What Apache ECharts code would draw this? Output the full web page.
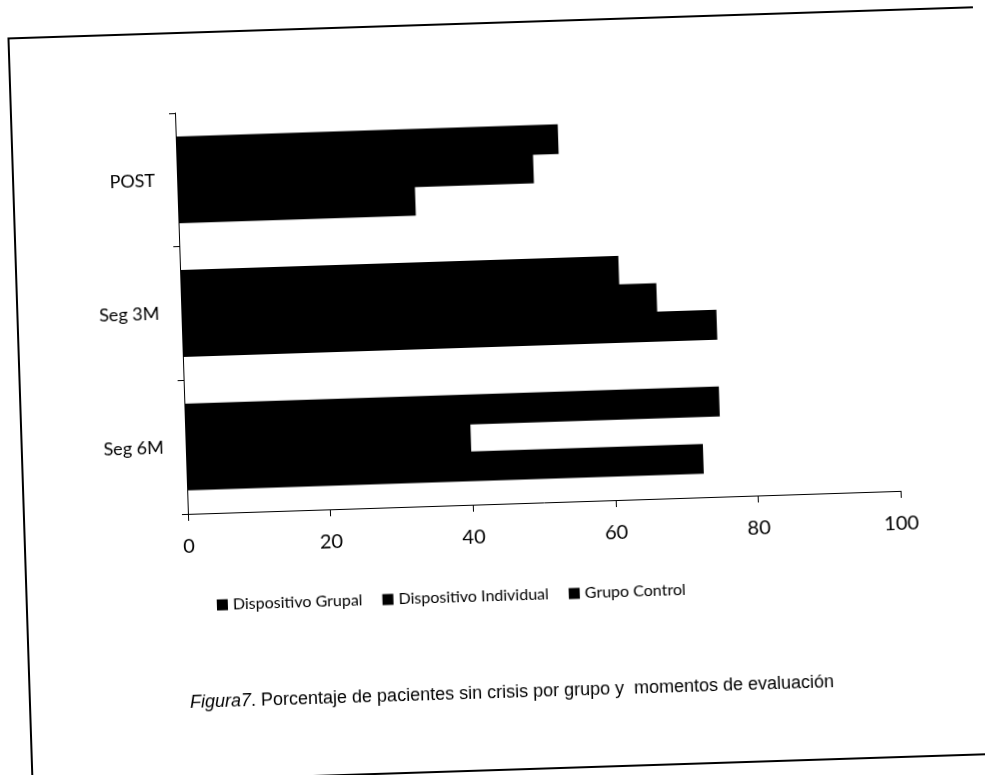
<!DOCTYPE html>
<html>
<head>
<meta charset="utf-8">
<script src="https://cdn.jsdelivr.net/npm/echarts@6/dist/echarts.min.js"></script>
<style>
  html, body { margin: 0; padding: 0; background: #fff; overflow: hidden; }
  #chart {
    width: 985px;
    height: 775px;
    transform: rotate(-1.85deg);
    transform-origin: 50% 50%;
  }
</style>
</head>
<body>
<div id="chart"></div>
<script>
// momentos de evaluación (de arriba a abajo)
const categories = ['POST', 'Seg 3M', 'Seg 6M']
const seriesNames = ['Dispositivo Grupal', 'Dispositivo Individual', 'Grupo Control']
// % de pacientes sin crisis
const grupal = [53.6, 61.5, 75]
const individual = [50, 66.7, 40]
const control = [33.3, 75, 72.5]
const xTicks = [0, 20, 40, 60, 80, 100]

const chart = echarts.init(document.getElementById('chart'))

const font = 'Lato, "Open Sans", sans-serif'
const barStyle = { color: '#000' }
// barras solapadas un poco para que no queden juntas blancas
const gap = '-5%'

const option = {
  animation: false,
  backgroundColor: '#fff',
  grid: {
    left: 184,
    top: 103,
    width: 713,
    height: 401,
    containLabel: false
  },
  legend: {
    data: seriesNames,
    left: 205,
    top: 583,
    icon: 'rect',
    itemWidth: 11,
    itemHeight: 11,
    itemGap: 20,
    textStyle: { color: '#000', fontSize: 16, fontFamily: font }
  },
  xAxis: {
    type: 'value',
    min: xTicks[0],
    max: xTicks[xTicks.length - 1],
    interval: 20,
    axisLine: { show: true, lineStyle: { color: '#000', width: 1 } },
    axisTick: { show: true, inside: false, length: 7, lineStyle: { color: '#000' } },
    axisLabel: { color: '#000', fontSize: 20, fontFamily: font, margin: 23 },
    splitLine: { show: false }
  },
  yAxis: {
    type: 'category',
    data: categories,
    inverse: true,
    axisLine: { show: true, lineStyle: { color: '#000', width: 1 } },
    axisTick: { show: true, inside: false, length: 6, alignWithLabel: false, lineStyle: { color: '#000' } },
    axisLabel: { color: '#000', fontSize: 18, fontFamily: font, margin: 22 }
  },
  series: [
    { name: seriesNames[0], type: 'bar', data: grupal, itemStyle: barStyle, barGap: gap, barCategoryGap: '35%' },
    { name: seriesNames[1], type: 'bar', data: individual, itemStyle: barStyle, barGap: gap, barCategoryGap: '35%' },
    { name: seriesNames[2], type: 'bar', data: control, itemStyle: barStyle, barGap: gap, barCategoryGap: '35%' }
  ],
  graphic: [
    {
      type: 'rect',
      shape: { x: 20, y: 23, width: 976, height: 747 },
      style: { fill: 'none', stroke: '#000', lineWidth: 2 },
      silent: true
    },
    {
      type: 'text',
      x: 180,
      y: 693,
      style: {
        text: '{i|Figura7}. Porcentaje de pacientes sin crisis por grupo y  momentos de evaluación',
        verticalAlign: 'middle',
        fill: '#000',
        fontSize: 18,
        fontFamily: '"Liberation Sans", Arial, sans-serif',
        rich: {
          i: { fontStyle: 'italic', fontSize: 18, fontFamily: '"Liberation Sans", Arial, sans-serif', fill: '#000' }
        }
      }
    }
  ]
}

chart.setOption(option)
</script>
</body>
</html>
